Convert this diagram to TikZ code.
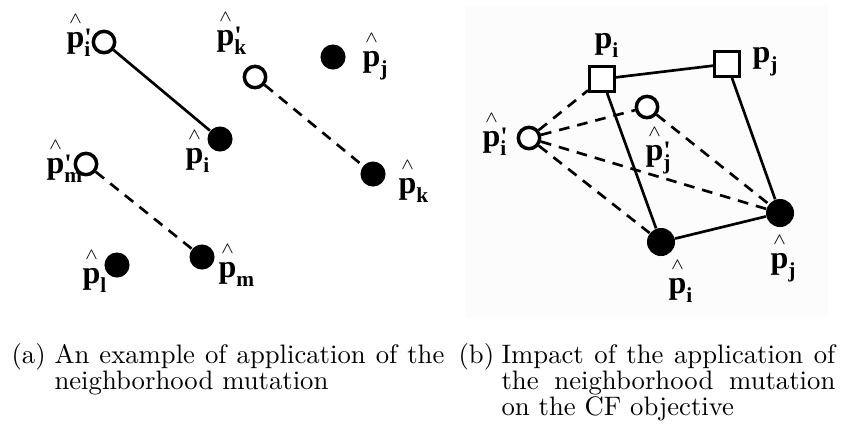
\documentclass[tikz,border=0pt]{standalone}
\usepackage{fontspec}
\newfontfamily\lblfont{Liberation Serif}
\definecolor{PanelClr}{rgb}{0.988,0.988,0.988}
\newcommand{\hatp}{\rlap{\makebox[0.556em]{\raisebox{0.74em}{$\scriptscriptstyle\wedge$}}}p}
\newcommand{\lblidx}[1]{\raisebox{-3.4pt}{\fontsize{8}{8}\selectfont#1}}
\newcommand{\hp}[2]{\hatp\rlap{\raisebox{0.3pt}{\fontsize{10}{10}\selectfont#2}}\lblidx{#1}}
\newcommand{\cp}[1]{p\lblidx{#1}}

\begin{document}
\begin{tikzpicture}[x=0.3745pt,y=-0.3745pt,
  newpt/.style={circle,draw,line width=1.3pt,fill=white,inner sep=0pt,minimum size=8pt},
  oldpt/.style={circle,fill=black,inner sep=0pt,minimum size=9.4pt},
  bigpt/.style={oldpt,minimum size=10.5pt},
  ctrpt/.style={rectangle,draw,line width=1.1pt,fill=white,inner sep=0pt,minimum size=9.4pt},
  lbl/.style={inner sep=0pt,anchor=base west,font=\lblfont\bfseries\fontsize{12}{14}\selectfont},
  captxt/.style={inner sep=0pt,anchor=base west,font=\fontsize{10}{12}\selectfont},
  mv/.style={line width=1pt},
  mvdash/.style={mv,dash pattern=on 4pt off 3pt}]
\useasboundingbox (0,0) rectangle (841,425);

% (a)
\node[newpt] (npi) at (104,42) {};
\node[oldpt] (opi) at (220,139) {};
\node[newpt] (npk) at (255,77) {};
\node[oldpt] (opk) at (373,174) {};
\node[oldpt] (opj) at (333,57) {};
\node[newpt] (npm) at (86,164) {};
\node[oldpt] (opm) at (202,257) {};
\node[oldpt] (opl) at (117,265) {};

\draw[mv] (npi) -- (opi);
\draw[mvdash] (npk) -- (opk);
\draw[mvdash] (npm) -- (opm);

\node[lbl] (lnpi) at (66,47) {\hp{i}{'}};
\node[lbl] (lnpk) at (216,45) {\hp{k}{'}};
\node[lbl] (lopj) at (362,66) {\hp{j}{}};
\node[lbl] (lopi) at (185,163) {\hp{i}{}};
\node[lbl] (lopk) at (398,193) {\hp{k}{}};
\node[lbl] (lnpm) at (46,173) {\hp{m}{'}};
\node[lbl] (lopl) at (82,283) {\hp{l}{}};
\node[lbl] (lopm) at (218,277) {\hp{m}{}};

% (b)
\fill[PanelClr] (465,6) rectangle (828,317);
\node[ctrpt] (ci) at (602,79) {};
\node[ctrpt] (cj) at (727,64) {};
\node[bigpt] (bpi) at (661,242) {};
\node[bigpt] (bpj) at (780,213) {};
\node[newpt] (bnpi) at (529,138) {};
\node[newpt] (bnpj) at (647,107) {};

\draw[mv] (ci) -- (cj) -- (bpj) -- (bpi) -- (ci);
\draw[mvdash] (bnpi) -- (ci) (bnpi) -- (bnpj) (bnpi) -- (bpi) (bnpi) -- (bpj) (bnpj) -- (bpj);

\node[lbl] (lci) at (594,48) {\cp{i}};
\node[lbl] (lcj) at (752,62) {\cp{j}};
\node[lbl] (lbnpi) at (482,146) {\hp{i}{'}};
\node[lbl] (lbnpj) at (645,160) {\hp{j}{'}};
\node[lbl] (lbpi) at (668,293) {\hp{i}{}};
\node[lbl] (lbpj) at (770,268) {\hp{j}{}};

% captions
\node[captxt] (capa) at (11,363) {(a)};
\node[captxt] (capa1) at (54,363) {\makebox[146pt][s]{An example of application of the}};
\node[captxt] (capa2) at (54,389) {neighborhood mutation};
\node[captxt] (capb) at (458,363) {(b)};
\node[captxt] (capb1) at (501,363) {\makebox[125pt][s]{Impact of the application of}};
\node[captxt] (capb2) at (501,389) {\makebox[125pt][s]{the neighborhood mutation}};
\node[captxt] (capb3) at (501,415) {on the CF objective};
\end{tikzpicture}
\end{document}
